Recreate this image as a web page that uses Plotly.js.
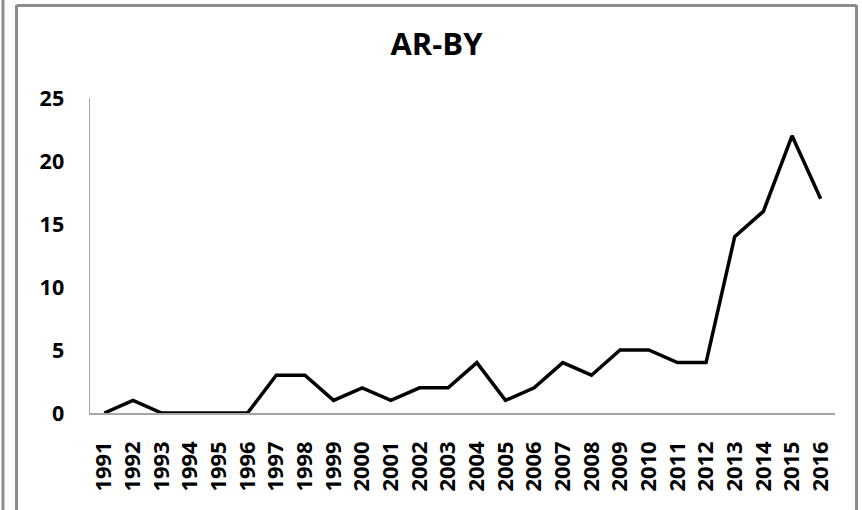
<!DOCTYPE html>
<html><head><meta charset="utf-8">
<script src="https://cdn.plot.ly/plotly-3.0.1.min.js"></script>
<style>html,body{margin:0;padding:0;background:#fff;}#chart{width:862px;height:510px;}</style>
</head><body><div id="chart"></div>
<script>
const years = ['1991','1992','1993','1994','1995','1996','1997','1998','1999','2000','2001','2002','2003','2004','2005','2006','2007','2008','2009','2010','2011','2012','2013','2014','2015','2016'];
const values = [0,1,0,0,0,0,3,3,1,2,1,2,2,4,1,2,4,3,5,5,4,4,14,16,22,17];
const yTicks = [0,5,10,15,20,25];
const chartTitle = 'AR-BY';

const yFont = {family: 'Open Sans', size: 21.5, color: '#000', weight: 'bold'};
const xFont = {family: 'Open Sans', size: 22, color: '#000', weight: 'bold'};
const L = 90, R = 27, T = 98, B = 97, W = 862, H = 510;
const pw = W - L - R, ph = H - T - B;
function px(x){ return (x - L) / pw; }
function py(y){ return (H - B - y) / ph; }
const frame = {type:'line', xref:'paper', yref:'paper', line:{color:'#8c8c8c', width:3}, layer:'above'};
const shapes = [
  Object.assign({}, frame, {x0:px(3), x1:px(3), y0:py(0), y1:py(510)}),
  Object.assign({}, frame, {x0:px(16.5), x1:px(16.5), y0:py(5), y1:py(510)}),
  Object.assign({}, frame, {x0:px(16.5), x1:px(856.5), y0:py(5.5), y1:py(5.5)}),
  Object.assign({}, frame, {x0:px(856.5), x1:px(856.5), y0:py(5), y1:py(510)})
];

Plotly.newPlot('chart', [{
  x: years, y: values, type: 'scatter', mode: 'lines',
  line: {color: '#000', width: 3.5}, hoverinfo: 'skip'
}], {
  width: W, height: H,
  margin: {l: L, r: R, t: T, b: B, pad: 0},
  paper_bgcolor: '#fff', plot_bgcolor: '#fff',
  showlegend: false,
  title: {text: chartTitle, font: {family: 'Open Sans', size: 31, color: '#000', weight: 'bold'},
          x: px(436.5), xanchor: 'center', xref: 'paper', y: 1 - 44/H, yanchor: 'middle'},
  xaxis: {type: 'category', showgrid: false, zeroline: false, showline: true,
          linecolor: '#a6a6a6', linewidth: 1.5, ticks: '', tickangle: -90,
          tickfont: xFont, ticklabelstandoff: 18, range: [-0.5, years.length - 0.5]},
  yaxis: {range: [0, 25], tickvals: yTicks, showgrid: false, zeroline: false, showline: true,
          linecolor: '#a6a6a6', linewidth: 1.5, ticks: '', tickfont: yFont, ticklabelstandoff: 20},
  shapes: shapes
}, {staticPlot: true});
</script></body></html>
